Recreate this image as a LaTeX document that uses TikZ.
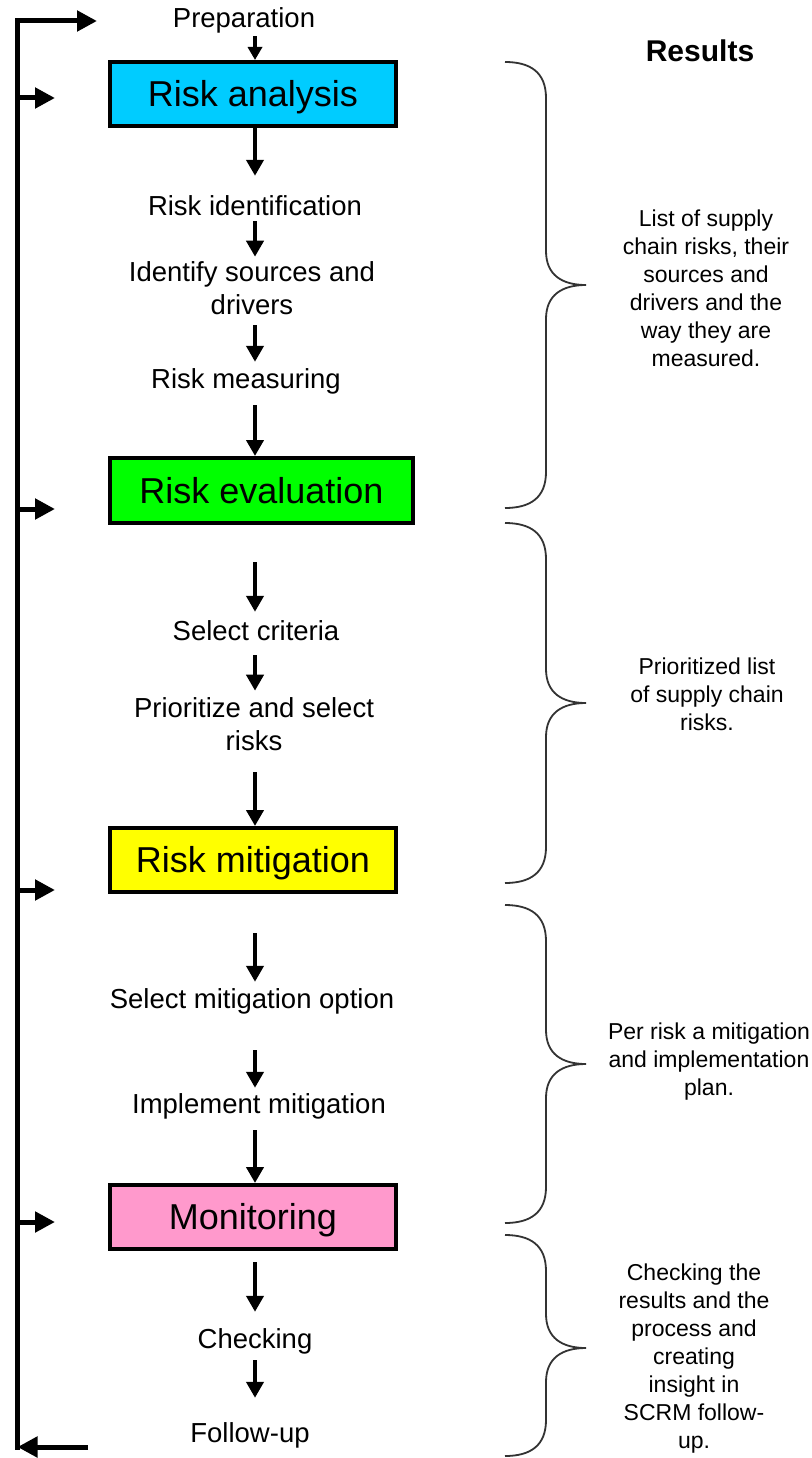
\documentclass[tikz,border=0pt]{standalone}
\usepackage{fontspec}
\setmainfont{Liberation Sans}
\usetikzlibrary{arrows.meta}
\definecolor{boxcyan}{HTML}{00CCFF}
\definecolor{boxgreen}{HTML}{00FF00}
\definecolor{boxyellow}{HTML}{FFFF00}
\definecolor{boxpink}{HTML}{FF99CC}
% curly brace: top y, tip y, bottom y
\newcommand{\resultbrace}[3]{%
  \draw[brace] (505,#1) .. controls (530,#1) and (546,#1+10) .. (546,#1+36)
    -- (546,#2-34) .. controls (546,#2-10) and (562,#2) .. (586,#2)
    .. controls (562,#2) and (546,#2+10) .. (546,#2+34)
    -- (546,#3-36) .. controls (546,#3-10) and (530,#3) .. (505,#3);}
\begin{document}
\begin{tikzpicture}[x=1pt,y=-1pt,
  box/.style={draw=black, line width=4pt, minimum width=286pt, minimum height=64pt,
    inner sep=0pt, text height=25.8pt, text depth=0pt, font=\fontsize{36}{40}\selectfont},
  flowtext/.style={inner sep=0pt, anchor=base, text height=20pt, text depth=6pt,
    font=\fontsize{27.5}{33}\selectfont},
  flowpara/.style={inner sep=0pt, align=center, font=\fontsize{27.5}{33}\selectfont},
  down/.style={line width=4.5pt, -{Triangle[width=17pt,length=16pt]}},
  downsmall/.style={line width=3.5pt, -{Triangle[width=14pt,length=13pt]}},
  bus/.style={line width=5pt, -{Triangle[width=20pt,length=20pt]}},
  brace/.style={draw=black!80, line width=1.8pt},
  result/.style={inner sep=0pt, align=center, font=\fontsize{23}{28}\selectfont},
]
\useasboundingbox (0,0) rectangle (811,1458);
\fill[white] (0,0) rectangle (811,1458);

% process column
\node[flowtext] (prep) at (244,28) {Preparation};
\node[box, fill=boxcyan] (ra) at (253,94) {Risk analysis};
\node[flowtext] (rid) at (255,215) {Risk identification};
\node[flowpara] (isd) at (252,288.5) {Identify sources and\\drivers};
\node[flowtext] (rms) at (246,388) {Risk measuring};
\node[box, fill=boxgreen, minimum width=303pt, minimum height=65pt] (re) at (261.5,490.5) {Risk evaluation};
\node[flowtext] (sc) at (256,640) {Select criteria};
\node[flowpara] (psr) at (254,724.5) {Prioritize and select\\risks};
\node[box, fill=boxyellow] (rm) at (253,860) {Risk mitigation};
\node[flowtext] (smo) at (252,1008) {Select mitigation option};
\node[flowtext] (imp) at (259,1113) {Implement mitigation};
\node[box, fill=boxpink] (mo) at (253,1217) {Monitoring};
\node[flowtext] (chk) at (255,1348) {Checking};
\node[flowtext] (fu) at (250,1442) {Follow-up};

% vertical flow arrows
\coordinate (spine) at (255,0);
\draw[downsmall, shorten <=2pt] (spine |- prep.south) -- (spine |- ra.north);
\draw[down, shorten >=19pt] (spine |- ra.south) -- (spine |- rid.north);
\draw[down, shorten >=5pt] (spine |- rid.south) -- (spine |- isd.north);
\draw[down, shorten <=10pt, shorten >=6pt] (spine |- isd.south) -- (spine |- rms.north);
\draw[down, shorten <=11pt] (spine |- rms.south) -- (spine |- re.north);
\draw[down, shorten <=37pt, shorten >=8pt] (spine |- re.south) -- (spine |- sc.north);
\draw[down, shorten <=9pt, shorten >=7pt] (spine |- sc.south) -- (spine |- psr.north);
\draw[down, shorten <=21pt] (spine |- psr.south) -- (spine |- rm.north);
\draw[down, shorten <=39pt, shorten >=6pt] (spine |- rm.south) -- (spine |- smo.north);
\draw[down, shorten <=36pt, shorten >=5pt] (spine |- smo.south) -- (spine |- imp.north);
\draw[down, shorten <=11pt] (spine |- imp.south) -- (spine |- mo.north);
\draw[down, shorten <=11pt, shorten >=16pt] (spine |- mo.south) -- (spine |- chk.north);
\draw[down, shorten <=6pt, shorten >=24pt] (spine |- chk.south) -- (spine |- fu.north);

% feedback bus on the left
\coordinate (busTop) at (17.5,21);
\coordinate (busBot) at (17.5,1447);
\coordinate (prepIn) at (97,21);
\coordinate (fuOut) at (88,1447);
\coordinate (inRA) at (55,98);
\coordinate (inRE) at (55,509);
\coordinate (inRM) at (55,890);
\coordinate (inMO) at (55,1222);
\draw[bus, line cap=rect] (busBot) -- (busTop) -- (prepIn);
\draw[bus] (fuOut) -- (busBot);
\draw[bus] (busTop |- inRA) -- (inRA);
\draw[bus] (busTop |- inRE) -- (inRE);
\draw[bus] (busTop |- inRM) -- (inRM);
\draw[bus] (busTop |- inMO) -- (inMO);

% results column
\node[inner sep=0pt, anchor=base, font=\fontsize{30}{34}\selectfont\bfseries] (res) at (700,62) {Results};
\resultbrace{62}{285}{508}
\resultbrace{523}{703}{883}
\resultbrace{905}{1064}{1223}
\resultbrace{1235}{1348}{1456}
\node[result] (r1) at (706,288) {List of supply\\chain risks, their\\sources and\\drivers and the\\way they are\\measured.};
\node[result] (r2) at (707,694) {Prioritized list\\of supply chain\\risks.};
\node[result] (r3) at (709,1062) {Per risk a mitigation\\and implementation\\plan.};
\node[result] (r4) at (694,1359) {Checking the\\results and the\\process and\\creating\\insight in\\SCRM follow-\\up.};
\end{tikzpicture}
\end{document}
